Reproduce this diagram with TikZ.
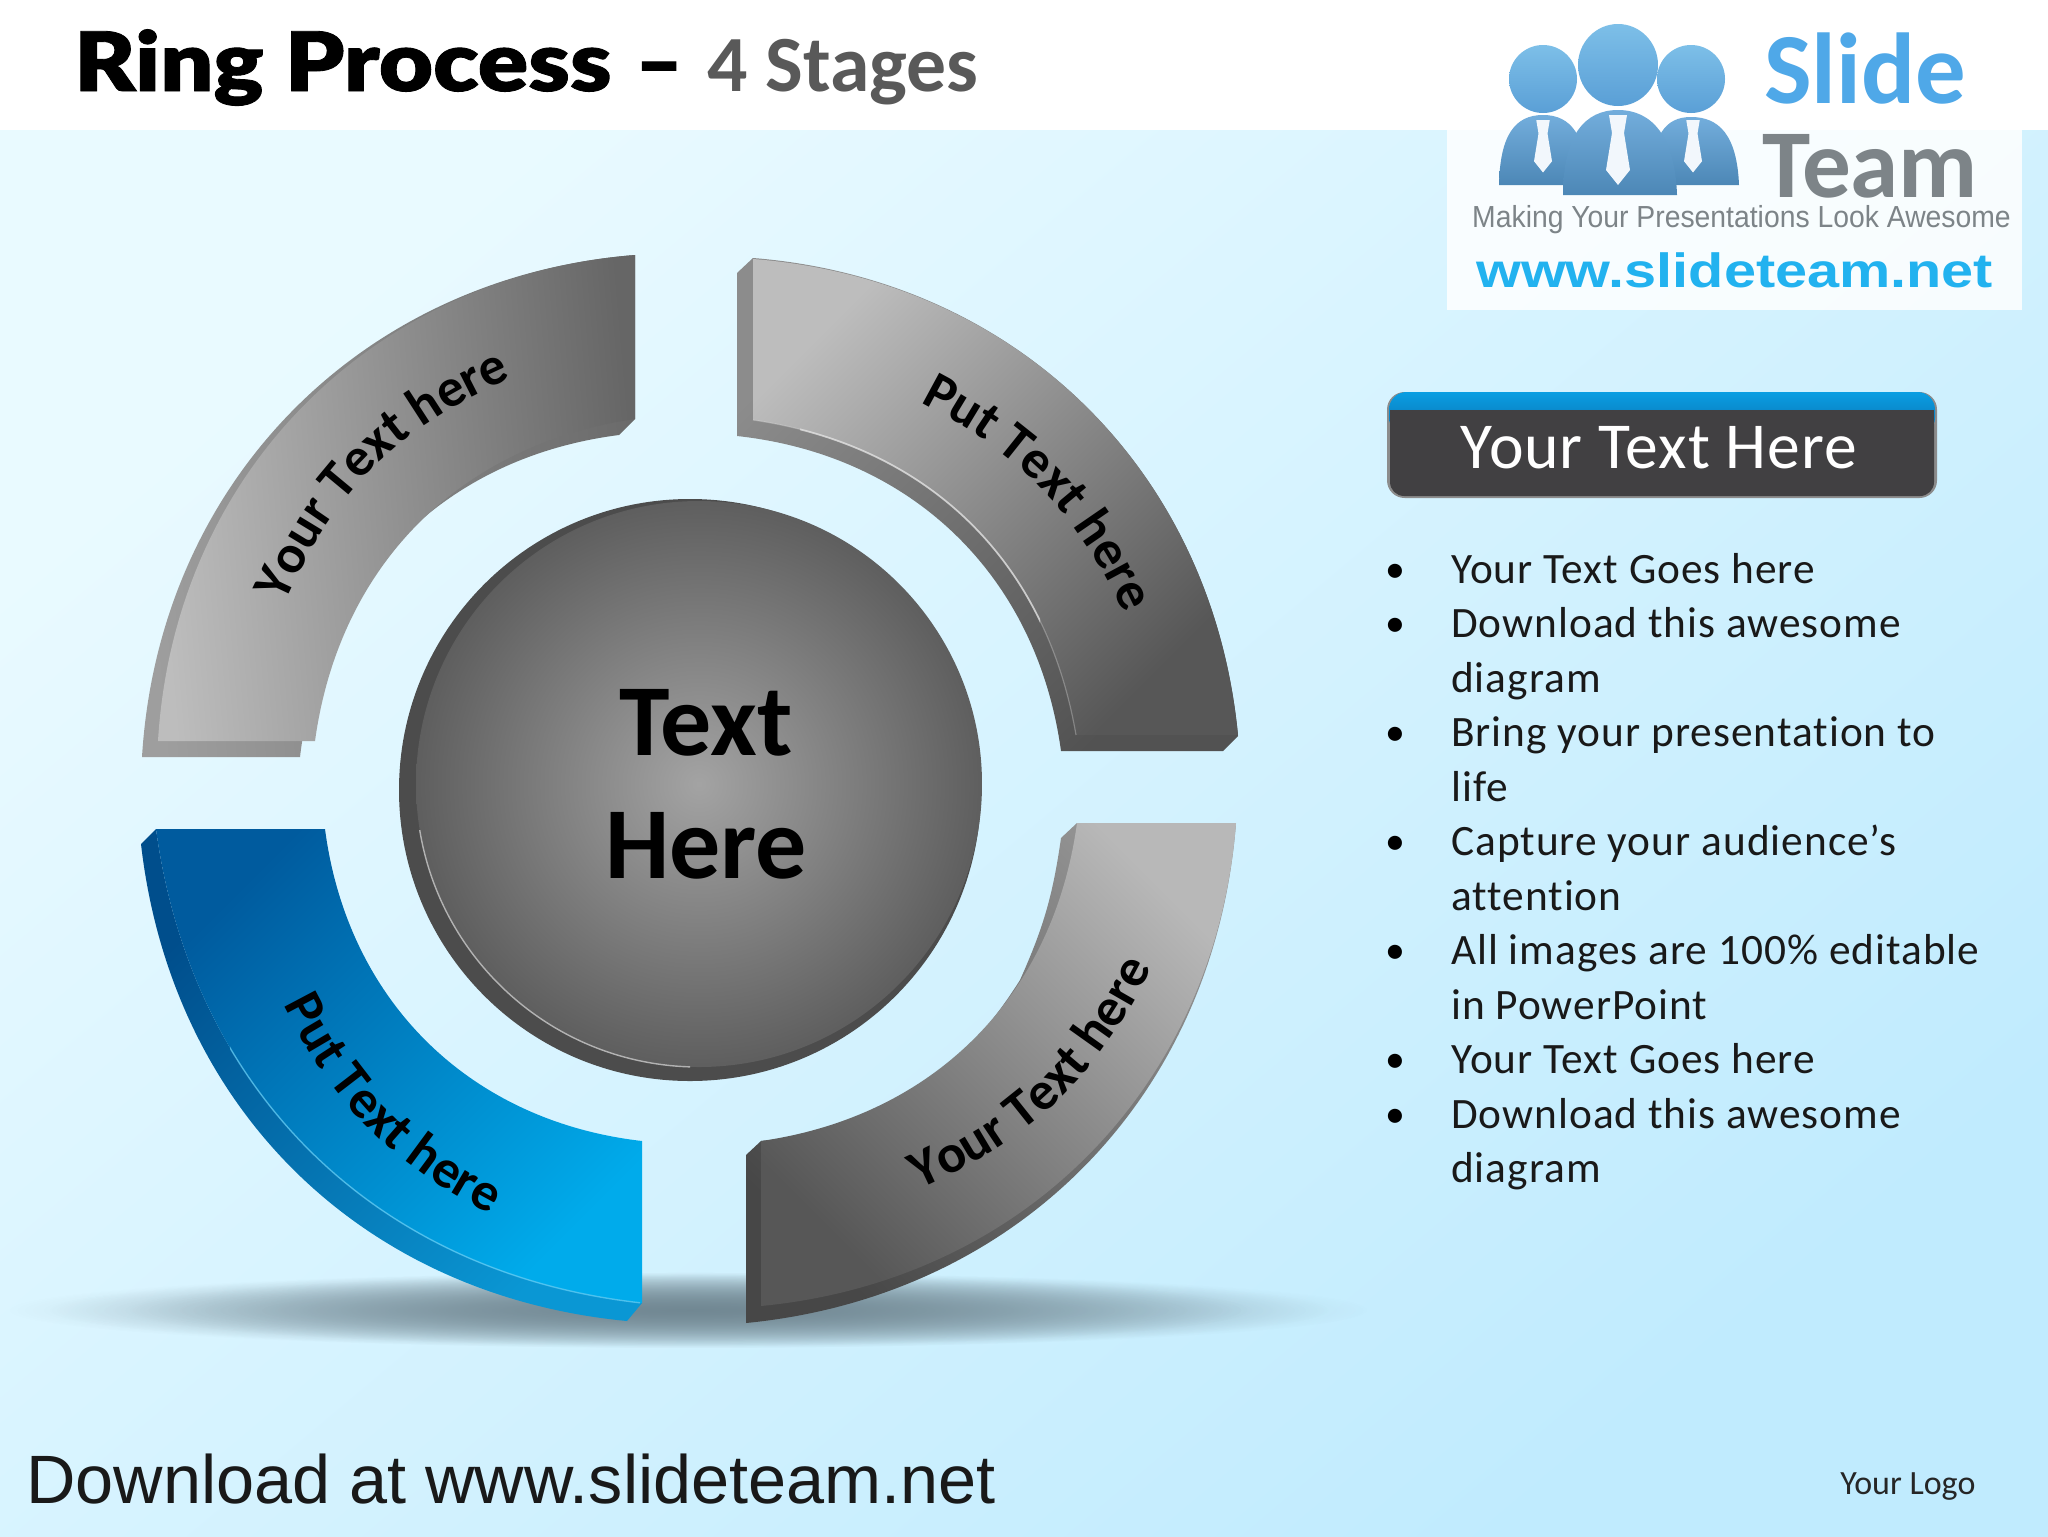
\documentclass[tikz,border=0pt]{standalone}
\usepackage{fontspec}
\setmainfont{Carlito}
\newfontfamily\arialfont{Liberation Sans}
\newfontfamily\titlefont{Lato Black}[FakeBold=1]
\usetikzlibrary{decorations.text,fadings}
\definecolor{bgtop}{HTML}{E9FAFF}
\definecolor{bgbottom}{HTML}{C0EBFE}
\definecolor{floorgray}{HTML}{6F8590}
\definecolor{barback}{HTML}{414042}
\definecolor{barblue}{HTML}{0A9EE2}
\definecolor{bardeep}{HTML}{0A6FB0}
\definecolor{faceblue}{HTML}{005B9E}
\definecolor{facecyan}{HTML}{00ABEB}
\definecolor{sideblue}{HTML}{004E8C}
\definecolor{sidecyan}{HTML}{0A97D4}
\definecolor{logoblue}{HTML}{4FA8E8}
\definecolor{logobody}{HTML}{5A9FD6}
\definecolor{logohead}{HTML}{7DBFE8}
\definecolor{logogray}{HTML}{7D8488}
\definecolor{logocyan}{HTML}{22B2EF}
\tikzfading[name=floorfade,inner color=transparent!30,outer color=transparent!100]
\newcommand{\labelfont}{\bfseries\fontsize{46}{46}\selectfont}
\tikzset{
    plainlabel/.style={anchor=base west,inner sep=0pt},
    bulletline/.style={plainlabel,font=\fontsize{37}{37}\selectfont\addfontfeature{LetterSpace=2.3,Ligatures=NoCommon},text=black!90},
    ringlabel/.style={decorate,decoration={text along path,text align=center,text={|\labelfont|#1}}},
    centerword/.style={anchor=base,inner sep=0pt,font=\bfseries\fontsize{87}{87}\selectfont},
}
\begin{document}
\begin{tikzpicture}[x=0.03cm,y=-0.03cm]
    \useasboundingbox (0,0) rectangle (2048,1536);
    \fill[white] (0,0) rectangle (2048,130);
    \shade[top color=bgtop,bottom color=bgbottom,shading angle=40] (0,130) rectangle (2048,1536);
    \fill[floorgray,path fading=floorfade] (690,1310) ellipse (680 and 38);
    \fill[floorgray,path fading=floorfade] (690,1310) ellipse (640 and 38);
    \fill[floorgray,path fading=floorfade] (690,1310) ellipse (560 and 36);

    % ring, top left
    \shade[bottom color=black!38,top color=black!58,shading angle=-85] (142,757) to[bend left=41] (635,255) -- (635,419) -- (619,435) to[bend right=38] (300,757) -- cycle;
    \shade[bottom color=black!26,middle color=black!26,top color=black!60,shading angle=-85] (158,741) to[bend left=41] (635,255) -- (635,419) to[bend right=37] (315,741) -- cycle;
    \path[ringlabel={Your Text here}] (284,604) to[bend left=21] (512,378);

    % ring, top right
    \shade[top color=black!45,bottom color=black!68,shading angle=45] (737,273) -- (753,258) to[bend left=40] (1238,736) -- (1223,751) -- (1061,751) to[bend right=38] (737,436) -- cycle;
    \shade[top color=black!26,middle color=black!39,bottom color=black!66,shading angle=45] (753,259) to[bend left=40] (1238,735) -- (1076,735) to[bend right=36] (753,420) -- cycle;
    \draw[black!15,line width=1pt,opacity=0.35] (753,420) to[bend left=36] (1076,735);
    \begin{scope}
        \clip (800,400) rectangle (1040,640);
        \draw[black!10,line width=1.5pt,opacity=0.7] (753,420) to[bend left=36] (1076,735);
    \end{scope}
    \path[ringlabel={Put Text here}] (912,398) to[bend left=19.5] (1128,622);

    % ring, bottom right
    \shade[right color=black!42,left color=black!72,shading angle=135] (1236,823) to[bend left=40] (746,1323) -- (746,1155) -- (761,1141) to[bend right=26] (1020,980) to[bend right=8] (1061,838) -- (1077,823) -- cycle;
    \shade[right color=black!28,middle color=black!43,left color=black!66,shading angle=135] (1236,823) to[bend left=40] (761,1306) -- (761,1141) to[bend right=37] (1077,823) -- cycle;
    \path[ringlabel={Your Text here}] (912,1193) to[bend right=20] (1156,960);

    % ring, bottom left
    \shade[top color=sideblue,bottom color=sidecyan,shading angle=45] (141,844) to[bend right=39] (627,1321) -- (642,1303) to[bend left=38] (156,829) -- cycle;
    \shade[top color=faceblue,bottom color=facecyan,shading angle=45] (156,829) -- (325,829) to[bend right=38] (642,1141) -- (642,1303) to[bend left=38] cycle;
    \begin{scope}
        \clip (230,1020) rectangle (640,1310);
        \draw[cyan!60!white,line width=1.2pt,opacity=0.7] (642,1303) to[bend left=38] (156,829);
    \end{scope}
    \path[ringlabel={Put Text here}] (276,990) to[bend right=19] (505,1222);

    % center disc
    \fill[black!70] (690,790) circle (291);
    \shade[inner color=black!36,outer color=black!63] (699,784) circle (283);
    \begin{scope}
        \clip (400,830) rectangle (690,1090);
        \draw[black!30,line width=1.2pt] (699,784) circle (283);
    \end{scope}
    \node[centerword] (centertop) at (706,755) {Text};
    \node[centerword] (centerbottom) at (706,878) {Here};

    % heading
    \node[plainlabel,xscale=1.14,font=\titlefont\fontsize{70}{70}\selectfont] (title) at (74,91) {Ring Process};
    \node[plainlabel,font=\titlefont\fontsize{70}{70}\selectfont] (dash) at (635,91) {–};
    \node[plainlabel,text=black!65,font=\bfseries\fontsize{68}{68}\selectfont] (subtitle) at (707,91) {4 Stages};

    % logo
    \fill[white,opacity=0.85] (1447,130) rectangle (2022,310);
    \shade[top color=logohead,bottom color=logobody] (1543,79) ellipse (34 and 34);
    \shade[top color=logohead,bottom color=logobody] (1691,79) ellipse (34 and 34);
    \shade[top color=logohead,bottom color=logobody] (1618,65) ellipse (40 and 41);
    \shade[top color=logobody!85!white,bottom color=logobody!85!black] (1499,185) .. controls (1500,135) and (1515,115) .. (1543,115) .. controls (1571,115) and (1586,135) .. (1588,185) -- cycle;
    \shade[top color=logobody!85!white,bottom color=logobody!85!black] (1650,185) .. controls (1652,135) and (1665,117) .. (1691,117) .. controls (1719,117) and (1737,135) .. (1739,185) -- cycle;
    \shade[top color=logobody!85!white,bottom color=logobody!85!black] (1563,195) .. controls (1563,135) and (1585,110) .. (1618,110) .. controls (1651,110) and (1675,135) .. (1677,195) -- cycle;
    \foreach \tiex/\tiey/\tiew in {1543/120/0.75,1693/120/0.75,1618/115/1}
        \fill[white!92!logobody,shift={(\tiex,\tiey)},scale=\tiew] (-9,0) -- (9,0) -- (6,18) -- (12,55) -- (0,70) -- (-12,55) -- (-6,18) -- cycle;
    \node[plainlabel,text=logoblue,font=\bfseries\fontsize{86}{86}\selectfont] (logoslide) at (1764,103) {Slide};
    \node[plainlabel,text=logogray,font=\bfseries\fontsize{83}{83}\selectfont] (logoteam) at (1762,197) {Team};
    \node[plainlabel,text=logogray,xscale=0.93,font=\arialfont\fontsize{26}{26}\selectfont] (logotag) at (1472,227) {Making Your Presentations Look Awesome};
    \node[plainlabel,text=logocyan,xscale=1.2,font=\arialfont\bfseries\fontsize{41}{41}\selectfont] (logoweb) at (1476,287) {www.slideteam.net};

    % text bar
    \fill[black!45,rounded corners=15pt] (1387,392) rectangle (1937,498);
    \shade[top color=barblue,bottom color=bardeep,rounded corners=15pt] (1389,392) rectangle (1935,435);
    \fill[barback,rounded corners=12pt] (1390,410) rectangle (1934,496);
    \fill[barback] (1390,410) rectangle (1934,430);
    \node[anchor=base,inner sep=0pt,text=white,font=\fontsize{56}{56}\selectfont\addfontfeature{LetterSpace=1.5}] (barlabel) at (1659,468) {Your Text Here};

    % bullets
    \foreach \ypos/\txt [count=\i] in {583/Your Text Goes here,637.5/Download this awesome,692/diagram,746.5/Bring your presentation to,801/life,855.5/Capture your audience’s,910/attention,964.5/All images are 100\% editable,1019/in PowerPoint,1073.5/Your Text Goes here,1128/Download this awesome,1182.5/diagram}
        \node[bulletline] (line\i) at (1451,\ypos) {\txt};
    \foreach \ypos [count=\i] in {582,636.5,745.5,854.5,963.5,1072.5,1127}
        \node[anchor=base,inner sep=0pt,font=\fontsize{34}{34}\selectfont] (dot\i) at (1395,\ypos) {•};

    % footer
    \node[plainlabel,text=black!90,font=\arialfont\fontsize{58.4}{58.4}\selectfont] (footer) at (26,1503) {Download at www.slideteam.net};
    \node[plainlabel,text=black!85,font=\fontsize{29}{29}\selectfont] (yourlogo) at (1840,1494) {Your Logo};
\end{tikzpicture}
\end{document}
